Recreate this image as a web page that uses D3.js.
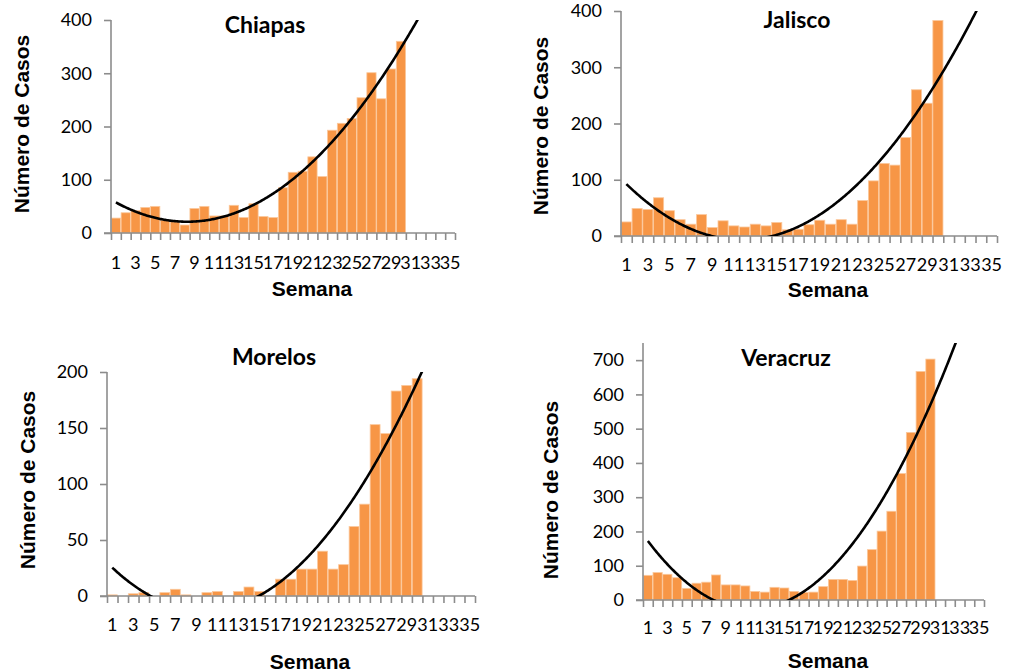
<!DOCTYPE html>
<html>
<head>
<meta charset="utf-8" />
<title>Casos por semana</title>
<script src="https://d3js.org/d3.v7.min.js"></script>
<style>
  body { margin: 0; background: #fff; }
  .tick text { font-family: Lato, "Open Sans", sans-serif; font-size: 18px; fill: #000; }
  .titulo { font-family: Lato, "Open Sans", sans-serif; font-weight: bold; font-size: 23px; }
  .eje { font-family: "Liberation Sans", Arial, sans-serif; font-weight: bold; font-size: 21px; }
</style>
</head>
<body>
<svg width="1015" height="672" id="svg1"></svg>
<script>
// semanas en el eje x
var semanas = [1,2,3,4,5,6,7,8,9,10,11,12,13,14,15,16,17,18,19,20,21,22,23,24,25,26,27,28,29,30,31,32,33,34,35];

// casos por semana (semanas 1-30)
var chiapas  = [28,38,42,48,50,24,21,15,46,50,32,32,52,29,55,31,29,85,114,116,143,106,193,206,215,254,301,252,308,360];
var jalisco  = [25,49,47,68,45,29,21,38,15,27,18,16,21,18,24,11,12,20,28,21,29,21,63,98,129,126,175,260,236,383];
var morelos  = [1,0,2,3,0,3,6,1,0,3,4,0,4,8,4,0,15,15,24,24,40,24,28,62,82,153,145,183,188,194];
var veracruz = [72,80,75,65,34,49,52,73,44,44,41,25,23,37,35,25,22,23,39,60,60,57,99,147,201,259,369,489,667,703];

// marcas del eje y
var ticks400 = [0,100,200,300,400];
var ticks200 = [0,50,100,150,200];
var ticks700 = [0,100,200,300,400,500,600,700];

var svg = d3.select("#svg1");

// ajuste polinomico de grado 2 (minimos cuadrados), como la linea de tendencia de Excel
function ajuste2(ys) {
    var s = [0,0,0,0,0], t = [0,0,0];
    ys.forEach(function(y, i) {
        var x = i + 1;
        for (var k = 0; k < 5; k++) s[k] += Math.pow(x, k);
        for (var k = 0; k < 3; k++) t[k] += y * Math.pow(x, k);
    });
    var A = [[s[0],s[1],s[2],t[0]],[s[1],s[2],s[3],t[1]],[s[2],s[3],s[4],t[2]]];
    for (var i = 0; i < 3; i++) {
        for (var j = i + 1; j < 3; j++) {
            var f = A[j][i] / A[i][i];
            for (var k = i; k < 4; k++) A[j][k] -= f * A[i][k];
        }
    }
    var c = [0,0,0];
    for (var i = 2; i >= 0; i--) {
        var v = A[i][3];
        for (var k = i + 1; k < 3; k++) v -= A[i][k] * c[k];
        c[i] = v / A[i][i];
    }
    return function(x) { return c[0] + c[1]*x + c[2]*x*x; };
}

function panel(p) {
    var g = svg.append("g");
    var x = d3.scaleBand().domain(semanas).range([p.left, p.right]).paddingInner(0.06).paddingOuter(0.03);
    var xl = d3.scaleLinear().domain([0.5, semanas.length + 0.5]).range([p.left, p.right]);
    var y = d3.scaleLinear().domain([0, p.max]).range([p.bottom, p.top]);
    var id = "clip" + p.nombre;

    g.append("clipPath").attr("id", id).append("rect")
      .attr("x", p.left).attr("y", p.top)
      .attr("width", p.right - p.left).attr("height", p.bottom - p.top);

    // barras
    g.selectAll("rect.barra")
      .data(p.datos)
      .enter()
      .append("rect")
      .attr("class", "barra")
      .attr("x", function(d, i) { return x(semanas[i]); })
      .attr("width", x.bandwidth())
      .attr("y", function(d) { return y(d); })
      .attr("height", function(d) { return p.bottom - y(d); })
      .attr("fill", "#f79646")
      .attr("stroke", "#fbc89c")
      .attr("stroke-width", 0.8);

    // eje y
    var ay = g.append("g")
      .attr("transform", "translate(" + p.left + ",0)")
      .call(d3.axisLeft(y).tickValues(p.ticks).tickSize(7).tickPadding(12));
    ay.select(".domain").attr("d", "M0," + p.bottom + "V" + p.top);

    // eje x: marcas entre categorias
    var ax = g.append("g")
      .attr("transform", "translate(0," + p.bottom + ")")
      .call(d3.axisBottom(xl).tickValues(d3.range(0.5, semanas.length + 1, 1)).tickSize(7).tickFormat(""));
    ax.select(".domain").attr("d", "M" + (p.left - 7) + ",0H" + p.right);

    g.selectAll("path.domain, .tick line").attr("stroke", "#8c8c8c").attr("stroke-width", 1.6);

    // etiquetas x (semanas impares)
    g.selectAll("text.semana")
      .data(semanas.filter(function(s) { return s % 2 == 1; }))
      .enter()
      .append("text")
      .attr("class", "tick semana")
      .attr("x", function(s) { return xl(s); })
      .attr("y", p.labY)
      .attr("dy", "0.35em")
      .attr("text-anchor", "middle")
      .style("font-family", "Lato, 'Open Sans', sans-serif")
      .style("font-size", "18px")
      .text(function(s) { return s; });

    // linea de tendencia
    var f = ajuste2(p.datos);
    var pts = d3.range(1, semanas.length + 0.001, 0.1);
    g.append("path")
      .datum(pts)
      .attr("clip-path", "url(#" + id + ")")
      .attr("fill", "none")
      .attr("stroke", "#000")
      .attr("stroke-width", 2.6)
      .attr("d", d3.line().x(function(s) { return xl(s); }).y(function(s) { return y(f(s)); }));

    // textos
    g.append("text").attr("class", "titulo")
      .attr("x", p.tx).attr("y", p.ty).attr("dy", "0.35em")
      .attr("text-anchor", "middle").text(p.nombre);
    g.append("text").attr("class", "eje")
      .attr("x", p.sx).attr("y", p.sy).attr("dy", "0.35em")
      .attr("text-anchor", "middle").text("Semana");
    g.append("text").attr("class", "eje")
      .attr("transform", "translate(" + p.nx + "," + p.ny + ") rotate(-90)")
      .attr("dy", "0.35em")
      .attr("text-anchor", "middle").text("Número de Casos");
}

panel({nombre: "Chiapas", datos: chiapas, max: 400, ticks: ticks400,
       left: 111, right: 455, top: 20, bottom: 233, labY: 263,
       tx: 265, ty: 25, sx: 312, sy: 289, nx: 22, ny: 124});
panel({nombre: "Jalisco", datos: jalisco, max: 400, ticks: ticks400,
       left: 621, right: 997, top: 11, bottom: 236, labY: 265,
       tx: 797, ty: 20, sx: 828, sy: 290, nx: 541, ny: 126});
panel({nombre: "Morelos", datos: morelos, max: 200, ticks: ticks200,
       left: 107, right: 475, top: 372, bottom: 596, labY: 625,
       tx: 274, ty: 357, sx: 310, sy: 662, nx: 28, ny: 480});
panel({nombre: "Veracruz", datos: veracruz, max: 750, ticks: ticks700,
       left: 643, right: 984, top: 343, bottom: 600, labY: 628,
       tx: 786, ty: 358, sx: 828, sy: 661, nx: 551, ny: 490});
</script>
</body>
</html>
